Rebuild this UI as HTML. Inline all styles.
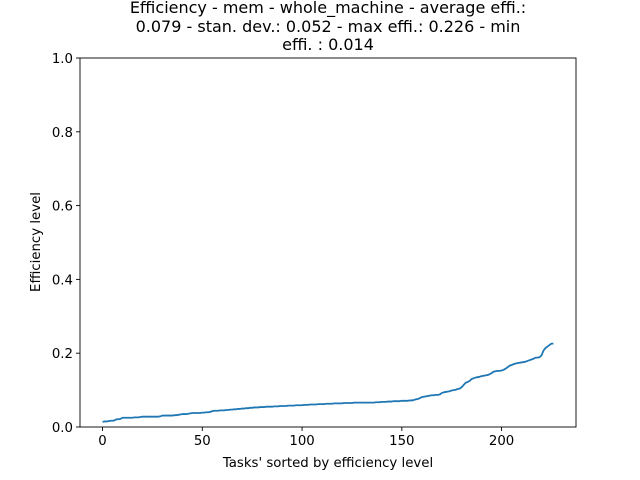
<!DOCTYPE html>
<html><head><meta charset="utf-8"><style>
body{margin:0;background:#fff;}
svg{display:block;font-family:"DejaVu Sans","Liberation Sans",sans-serif;}
</style></head><body>
<svg id="chart" width="640" height="480">
<rect width="640" height="480" fill="#fff"/>
<g font-size="16" text-anchor="middle" fill="#000">
<text x="328" y="13">Efficiency - mem - whole_machine - average effi.:</text>
<text x="328" y="32">0.079 - stan. dev.: 0.052 - max effi.: 0.226 - min</text>
<text x="328" y="50">effi. : 0.014</text>
</g>
<g id="axes"></g>
<text x="328" y="467" font-size="13.3" text-anchor="middle">Tasks' sorted by efficiency level</text>
<text x="0" y="0" font-size="13.3" text-anchor="middle" transform="translate(40,242) rotate(-90)">Efficiency level</text>
</svg>
<script>
const values = [
0.014,0.015,0.015,0.016,0.017,0.017,0.018,0.021,0.021,0.022,
0.025,0.025,0.025,0.025,0.025,0.025,0.026,0.026,0.026,0.027,
0.028,0.028,0.028,0.028,0.028,0.028,0.028,0.028,0.028,0.029,
0.031,0.031,0.031,0.031,0.031,0.031,0.032,0.032,0.033,0.034,
0.035,0.035,0.035,0.036,0.037,0.038,0.038,0.038,0.038,0.038,
0.039,0.039,0.040,0.040,0.041,0.043,0.044,0.044,0.044,0.045,
0.045,0.045,0.046,0.046,0.047,0.047,0.048,0.048,0.049,0.049,
0.050,0.050,0.051,0.051,0.052,0.052,0.053,0.053,0.053,0.054,
0.054,0.054,0.055,0.055,0.055,0.055,0.056,0.056,0.056,0.057,
0.057,0.057,0.057,0.058,0.058,0.058,0.058,0.059,0.059,0.059,
0.059,0.060,0.060,0.060,0.061,0.061,0.061,0.061,0.062,0.062,
0.062,0.062,0.063,0.063,0.063,0.063,0.064,0.064,0.064,0.064,
0.064,0.065,0.065,0.065,0.065,0.065,0.066,0.066,0.066,0.066,
0.066,0.066,0.066,0.066,0.066,0.066,0.066,0.067,0.067,0.067,
0.068,0.068,0.068,0.069,0.069,0.069,0.070,0.070,0.070,0.070,
0.071,0.071,0.071,0.071,0.072,0.072,0.073,0.075,0.076,0.078,
0.081,0.082,0.083,0.084,0.085,0.086,0.086,0.087,0.087,0.088,
0.092,0.094,0.095,0.096,0.097,0.099,0.100,0.101,0.103,0.104,
0.108,0.114,0.120,0.122,0.125,0.130,0.132,0.134,0.135,0.136,
0.138,0.139,0.140,0.141,0.143,0.146,0.150,0.151,0.152,0.152,
0.153,0.155,0.158,0.162,0.166,0.168,0.170,0.172,0.173,0.174,
0.175,0.176,0.177,0.179,0.181,0.183,0.185,0.188,0.188,0.189,
0.194,0.207,0.214,0.218,0.222,0.226,0.226];
const xTicks = [0,50,100,150,200];
const yTicks = [0.0,0.2,0.4,0.6,0.8,1.0];
const yTickLabels = ["0.0","0.2","0.4","0.6","0.8","1.0"];

const L=80,R=576,T=58,B=427;
const n=values.length, xmin=-(n-1)*0.05, xmax=(n-1)*1.05;
const sx=v=>L+(v-xmin)/(xmax-xmin)*(R-L);
const sy=v=>B-v*(B-T);
const NS="http://www.w3.org/2000/svg";
const g=document.getElementById('axes');
function mk(tag,attrs){const e=document.createElementNS(NS,tag);for(const k in attrs)e.setAttribute(k,attrs[k]);g.appendChild(e);return e;}
let d='';
values.forEach((v,i)=>{d+=(i?'L':'M')+sx(i).toFixed(2)+','+sy(v).toFixed(2);});
const line=mk('path',{d:d,fill:'none',stroke:'#1f77b4','stroke-width':1.8,'stroke-linejoin':'round'});


const frame=mk('rect',{x:L,y:T,width:R-L,height:B-T,fill:'none',stroke:'#000','stroke-width':0.9});


xTicks.forEach(t=>{
  const tk=mk('line',{x1:sx(t),x2:sx(t),y1:B,y2:B+4,stroke:'#000','stroke-width':0.9});
  
  
  const tx=mk('text',{x:sx(t),y:B+18,'font-size':13.3,'text-anchor':'middle'});
  tx.textContent=t;
  
  
});
yTicks.forEach((t,i)=>{
  const tk=mk('line',{x1:L-4,x2:L,y1:sy(t),y2:sy(t),stroke:'#000','stroke-width':0.9});
  
  
  const tx=mk('text',{x:L-7,y:sy(t)+5,'font-size':13.3,'text-anchor':'end'});
  tx.textContent=yTickLabels[i];
  
  
});
</script>
</body></html>
